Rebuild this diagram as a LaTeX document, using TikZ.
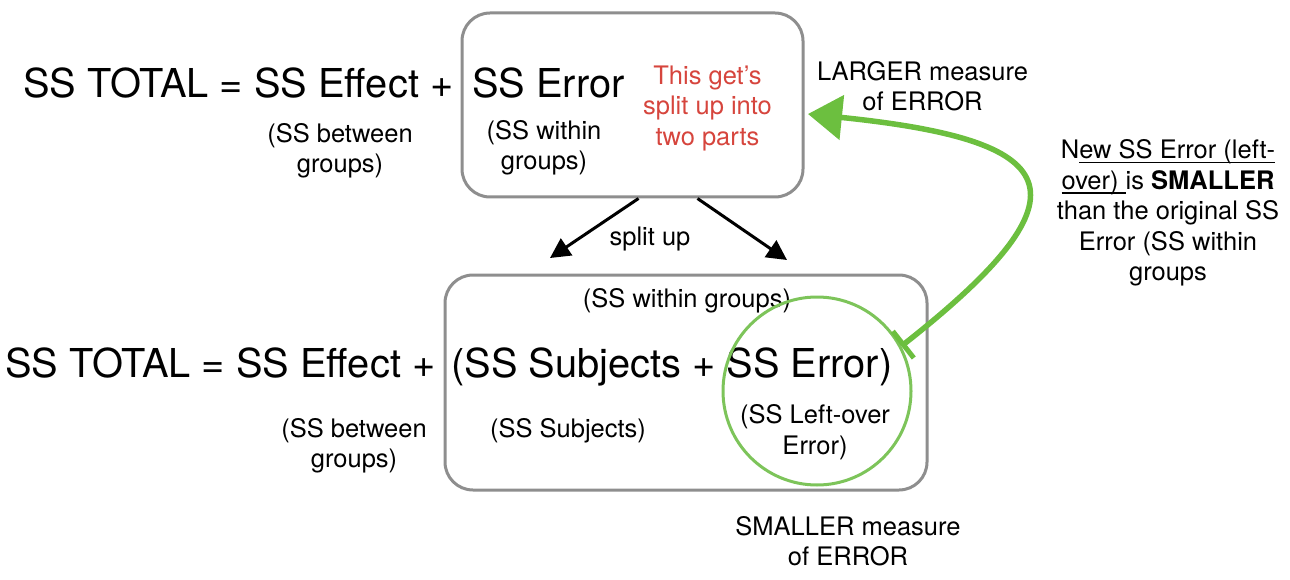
\documentclass[tikz,border=0pt]{standalone}
\usepackage{fontspec}
\setmainfont{TeX Gyre Heros}
\usepackage{xcolor}
\usepackage{tikz}
\usetikzlibrary{arrows.meta}
\definecolor{boxgray}{HTML}{8E8E8E}
\definecolor{errred}{HTML}{D6453D}
\definecolor{chalk}{HTML}{6CBF3F}
\definecolor{ringgreen}{HTML}{7DC45A}
\newcommand{\undl}[1]{\setbox0\hbox{#1}\rlap{\rule[-4.5pt]{\wd0}{1.3pt}}\box0}
\tikzset{
  big/.style={font=\fontsize{39.8}{46}\selectfont, inner sep=0pt},
  small/.style={font=\fontsize{25.5}{30.5}\selectfont, align=center, inner sep=0pt},
  note/.style={small, text=errred},
  frame/.style={draw=boxgray, line width=3pt, rounded corners=28pt},
  ring/.style={circle, draw=ringgreen, line width=3pt},
  splitarrow/.style={draw=black, line width=3pt, -{Triangle[length=20pt,width=20pt]}},
  chalkarrow/.style={draw=chalk, line width=5.5pt, {Bar[width=34pt,line width=5pt]}-{Triangle[length=34pt,width=44pt]}},
}

\begin{document}
\begin{tikzpicture}[x=1pt,y=-1pt]
  \useasboundingbox (0,0) rectangle (1290,580);
  % boxes
  \node[frame, minimum width=341pt, minimum height=184pt] (topbox) at (632.5,105) {};
  \node[frame, minimum width=482pt, minimum height=215pt] (botbox) at (686,382.5) {};
  % first equation
  \node[big, anchor=base west] (toteq) at (23,98) {SS TOTAL = SS Effect +};
  \node[big, anchor=base west] (toterr) at (472,98) {SS Error};
  \node[small] (topbetween) at (340,151) {(SS between\\groups)};
  \node[small] (topwithin) at (544,148) {(SS within\\groups)};
  \node[note] (splitnote) at (707.5,108) {This get's\\split up into\\two parts};
  \node[small] (larger) at (922.5,86) {LARGER measure\\of ERROR};
  \node[small] (newerror) at (1168,213) {N\undl{ew SS Error (left-}\\\undl{over) }is \textbf{SMALLER}\\than the original SS\\Error (SS within\\groups};
  % split
  \node[small, anchor=base] (splitlbl) at (650,245) {split up};
  \coordinate (lefttip) at (550,258);
  \coordinate (righttip) at (787,260);
  \draw[splitarrow] ([xshift=6pt]topbox.south) -- (lefttip);
  \draw[splitarrow] ([xshift=65pt]topbox.south) -- (righttip);
  % second equation
  \node[big, anchor=base west] (boteq) at (5,377) {SS TOTAL = SS Effect +};
  \node[big, anchor=base west] (botsum) at (451,377) {(SS Subjects + SS Error)};
  \node[small, anchor=base] (botwithin) at (687,307) {(SS within groups)};
  \node[small, anchor=base] (botsubj) at (568,437) {(SS Subjects)};
  \node[small] (botleft) at (815,432) {(SS Left-over\\Error)};
  \node[small] (botbetween) at (354,446) {(SS between\\groups)};
  \node[small] (smaller) at (848,541) {SMALLER measure\\of ERROR};
  % left-over error
  \node[ring, minimum size=188pt] (leftover) at (817,391) {};
  \coordinate (bigtip) at (808,114);
  \draw[chalkarrow] (leftover.28) .. controls (1100,190) and (1060,140) .. (bigtip);
\end{tikzpicture}
\end{document}
